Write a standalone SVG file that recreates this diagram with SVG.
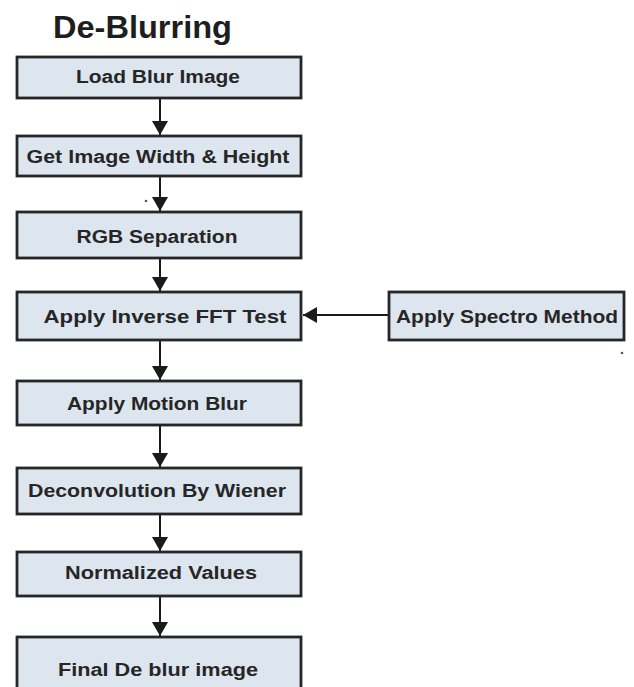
<svg xmlns="http://www.w3.org/2000/svg" width="634" height="687" viewBox="0 0 634 687">
<style>
.box{fill:#dde5ef;stroke:#262626;stroke-width:2.8}
.lbl{font-family:"Liberation Sans",Arial,sans-serif;font-weight:bold;font-size:18px;fill:#262626;text-anchor:middle}
.title{font-family:"Liberation Sans",Arial,sans-serif;font-weight:bold;font-size:31px;fill:#1e1e1e}
.conn{stroke:#1a1a1a;stroke-width:2;fill:none}
</style>
<defs>
<marker id="ah" viewBox="0 0 14 16" refX="14" refY="8" markerWidth="7" markerHeight="8" orient="auto" markerUnits="strokeWidth">
<path d="M0,0 L14,8 L0,16 z" fill="#1a1a1a"/>
</marker>
</defs>
<rect width="634" height="687" fill="#ffffff"/>
<text class="title" x="53" y="38" textLength="179" lengthAdjust="spacingAndGlyphs">De-Blurring</text>
<g id="connectors">
<line class="conn" x1="160" y1="98" x2="160" y2="135" marker-end="url(#ah)"/>
<line class="conn" x1="160" y1="176" x2="160" y2="211" marker-end="url(#ah)"/>
<line class="conn" x1="160" y1="258" x2="160" y2="291" marker-end="url(#ah)"/>
<line class="conn" x1="160" y1="340" x2="160" y2="380" marker-end="url(#ah)"/>
<line class="conn" x1="160" y1="425" x2="160" y2="467" marker-end="url(#ah)"/>
<line class="conn" x1="160" y1="514" x2="160" y2="551" marker-end="url(#ah)"/>
<line class="conn" x1="160" y1="596" x2="160" y2="636" marker-end="url(#ah)"/>
<line class="conn" x1="388" y1="315" x2="303" y2="315" marker-end="url(#ah)"/>
</g>
<g id="n1"><rect class="box" x="17" y="57" width="284" height="41"/><text class="lbl" x="158" y="83" textLength="164" lengthAdjust="spacingAndGlyphs">Load Blur Image</text></g>
<g id="n2"><rect class="box" x="17" y="136" width="284" height="40"/><text class="lbl" x="158" y="163" textLength="263" lengthAdjust="spacingAndGlyphs">Get Image Width &amp; Height</text></g>
<g id="n3"><rect class="box" x="17" y="212" width="284" height="46"/><text class="lbl" x="157" y="243" textLength="161" lengthAdjust="spacingAndGlyphs">RGB Separation</text></g>
<g id="n4"><rect class="box" x="17" y="292" width="284" height="48"/><text class="lbl" x="165" y="323" textLength="243" lengthAdjust="spacingAndGlyphs">Apply Inverse FFT Test</text></g>
<g id="n5"><rect class="box" x="389" y="292" width="235" height="48"/><text class="lbl" x="507" y="323" textLength="222" lengthAdjust="spacingAndGlyphs">Apply Spectro Method</text></g>
<g id="n6"><rect class="box" x="17" y="381" width="284" height="44"/><text class="lbl" x="157" y="410" textLength="180" lengthAdjust="spacingAndGlyphs">Apply Motion Blur</text></g>
<g id="n7"><rect class="box" x="17" y="468" width="284" height="46"/><text class="lbl" x="157" y="497" textLength="258" lengthAdjust="spacingAndGlyphs">Deconvolution By Wiener</text></g>
<g id="n8"><rect class="box" x="17" y="552" width="284" height="44"/><text class="lbl" x="161" y="579" textLength="192" lengthAdjust="spacingAndGlyphs">Normalized Values</text></g>
<g id="n9"><rect class="box" x="17" y="637" width="284" height="60"/><text class="lbl" x="158" y="676" textLength="200" lengthAdjust="spacingAndGlyphs">Final De blur image</text></g>
<circle cx="146" cy="201" r="1.3" fill="#555"/>
<circle cx="622" cy="353" r="1.3" fill="#555"/>
</svg>
